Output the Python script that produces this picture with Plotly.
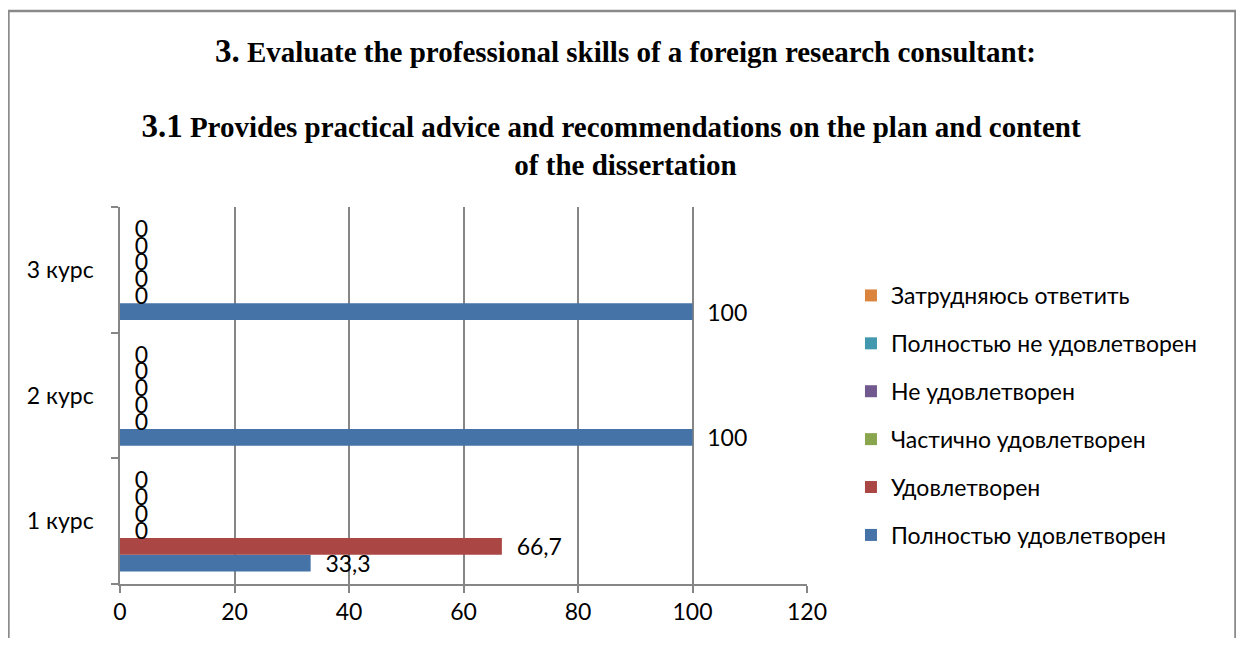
import plotly.graph_objects as go

# data
courses = ["1 курс", "2 курс", "3 курс"]
series_names = [
    "Полностью удовлетворен",
    "Удовлетворен",
    "Частично удовлетворен",
    "Не удовлетворен",
    "Полностью не удовлетворен",
    "Затрудняюсь ответить",
]
fully_satisfied = [33.3, 100, 100]
satisfied = [66.7, 0, 0]
partly_satisfied = [0, 0, 0]
not_satisfied = [0, 0, 0]
fully_not_satisfied = [0, 0, 0]
hard_to_say = [0, 0, 0]

series_values = [fully_satisfied, satisfied, partly_satisfied,
                 not_satisfied, fully_not_satisfied, hard_to_say]
colors = ["#4572A7", "#AA4643", "#89A54E", "#71588F", "#4198AF", "#DB843D"]

FONT = "Lato, 'Noto Sans', sans-serif"
FS = 23
PAD = "\u00a0" * 2


def fmt(v):
    if v is None:
        return ""
    return PAD + f"{v:g}".replace(".", ",")


fig = go.Figure()
for i, (name, vals, col) in enumerate(zip(series_names, series_values, colors)):
    fig.add_trace(go.Bar(
        y=courses,
        x=vals,
        name=name,
        orientation="h",
        marker=dict(color=col, line=dict(width=0)),
        text=[fmt(v) for v in vals],
        textposition="outside",
        constraintext="none",
        textfont=dict(family=FONT, size=FS, color="black"),
        cliponaxis=False,
        legendgroup=name,
        legendrank=1000 - i,
    ))

title_text = (
    "<b><span style='font-size:33px'>3.</span> Evaluate the professional skills of a foreign research consultant:</b>"
    "<br> <br>"
    "<b><span style='font-size:33px'>3.1</span> Provides practical advice and recommendations on the plan and content\u00a0\u00a0\u00a0\u00a0</b>"
    "<br><b>of the dissertation</b>"
)

fig.update_layout(
    width=1228,
    height=630,
    margin=dict(l=112, r=429, t=199, b=54),
    paper_bgcolor="white",
    plot_bgcolor="white",
    barmode="group",
    bargap=0.2,
    bargroupgap=0,
    separators=", ",
    font=dict(family=FONT, size=FS, color="black"),
    title=dict(
        text=title_text,
        font=dict(family="'Liberation Serif', 'Times New Roman', serif", size=29, color="black"),
        x=617.5 / 1228,
        xref="container",
        xanchor="center",
        y=1 - 54 / 630,
        yref="container",
        yanchor="top",
    ),
    showlegend=True,
    legend=dict(
        traceorder="grouped",
        x=1.064,
        xanchor="left",
        y=0.447,
        yanchor="middle",
        font=dict(family=FONT, size=FS, color="black"),
        tracegroupgap=15,
        bgcolor="rgba(0,0,0,0)",
    ),
    xaxis=dict(
        range=[0, 120],
        dtick=20,
        tick0=0,
        showgrid=True,
        gridcolor="#868686",
        gridwidth=1.5,
        showline=True,
        linecolor="#868686",
        linewidth=1.5,
        ticks="outside",
        ticklen=7,
        tickcolor="#868686",
        tickwidth=1.5,
        zeroline=False,
        tickfont=dict(family=FONT, size=FS, color="black"),
    ),
    yaxis=dict(
        type="category",
        categoryorder="array",
        categoryarray=courses,
        showgrid=False,
        showline=True,
        linecolor="#868686",
        linewidth=1.5,
        ticks="outside",
        tickson="boundaries",
        ticklen=7,
        tickcolor="#868686",
        tickwidth=1.5,
        ticklabelstandoff=20,
        tickfont=dict(family=FONT, size=FS, color="black"),
    ),
    shapes=[dict(
        type="rect",
        xref="paper", yref="paper",
        x0=-0.1624, x1=1.6237, y0=-0.3, y1=1.5199,
        line=dict(color="#8a8a8a", width=2.5),
        fillcolor="rgba(0,0,0,0)",
        layer="above",
    )],
)

fig.write_html("out.html")
